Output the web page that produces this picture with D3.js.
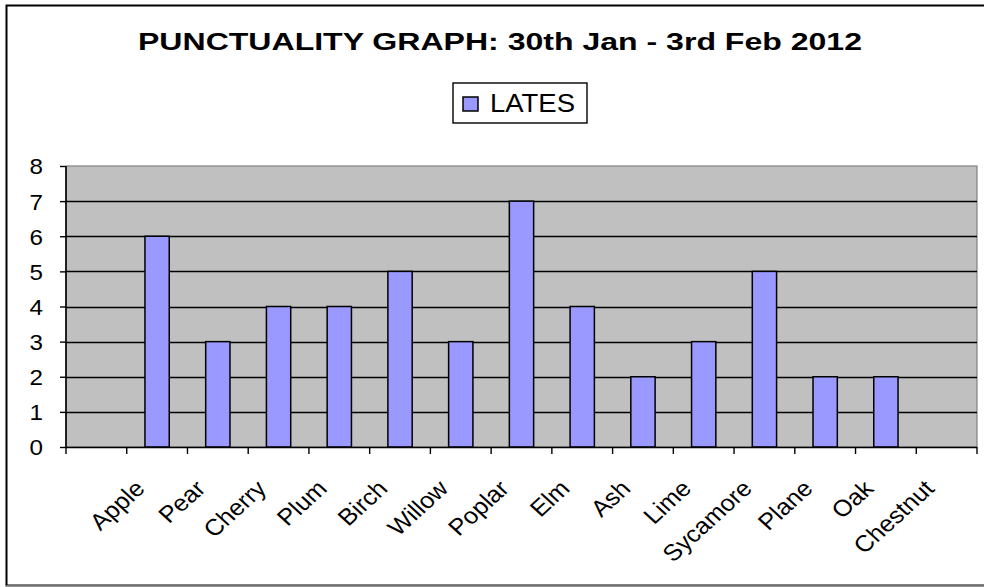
<!DOCTYPE html>
<html><head><meta charset="utf-8">
<script src="https://cdn.jsdelivr.net/npm/d3@7"></script>
<style>body{margin:0;background:#fff;}svg{display:block;font-family:"Liberation Sans",Arial,sans-serif;}</style>
</head><body>
<svg id="c" width="984" height="587"></svg>
<script>
const categories = ["", "Apple", "Pear", "Cherry", "Plum", "Birch", "Willow", "Poplar", "Elm", "Ash", "Lime", "Sycamore", "Plane", "Oak", "Chestnut"];
const lates = [null, 6, 3, 4, 4, 5, 3, 7, 4, 2, 3, 5, 2, 2, null];
const yTicks = [0, 1, 2, 3, 4, 5, 6, 7, 8];
const title = "PUNCTUALITY GRAPH: 30th Jan - 3rd Feb 2012";
const seriesName = "LATES";

const svg = d3.select("#c");
const L = 66, R = 977, T = 166, B = 447;

// outer frame
svg.append("rect").attr("x", 6.5).attr("y", 5.5).attr("width", 990).attr("height", 580)
  .attr("fill", "#fff").attr("stroke", "#000").attr("stroke-width", 2);
svg.append("line").attr("x1", 6).attr("x2", 984).attr("y1", 586).attr("y2", 586).attr("stroke", "#999").attr("stroke-width", 1.5);

const x = d3.scaleBand().domain(d3.range(categories.length)).range([L, R]).paddingInner(0).paddingOuter(0);
const y = d3.scaleLinear().domain([0, 8]).range([B, T]);

// plot background
svg.append("rect").attr("x", L).attr("y", T).attr("width", R - L).attr("height", B - T)
  .attr("fill", "#C0C0C0").attr("stroke", "#808080").attr("stroke-width", 1.2);

// gridlines
svg.append("g").selectAll("line").data(yTicks.filter(d => d > 0 && d < 8)).join("line")
  .attr("x1", L).attr("x2", R).attr("y1", d => Math.round(y(d)) + 0.5).attr("y2", d => Math.round(y(d)) + 0.5)
  .attr("stroke", "#000").attr("stroke-width", 1.3);

// bars
const bw = x.bandwidth() / 2.5;
svg.append("g").selectAll("rect").data(lates.map((v, i) => ({v, i})).filter(d => d.v)).join("rect")
  .attr("x", d => x(d.i) + (x.bandwidth() - bw) / 2)
  .attr("y", d => y(d.v))
  .attr("width", bw)
  .attr("height", d => y(0) - y(d.v))
  .attr("fill", "#9999FF").attr("stroke", "#000").attr("stroke-width", 1.5);

// y axis
const yAxis = svg.append("g").attr("transform", `translate(${L},0)`)
  .call(d3.axisLeft(y).tickValues(yTicks).tickSize(6).tickPadding(15).tickFormat(d3.format("d")));
yAxis.select(".domain").attr("stroke", "#000").attr("stroke-width", 1.6).attr("d", `M0,${T}V${B}`);
yAxis.selectAll(".tick line").attr("stroke", "#000").attr("stroke-width", 1.4);
yAxis.selectAll(".tick text").attr("font-size", 22).attr("fill", "#000")
  .attr("font-family", "Liberation Sans, Arial, sans-serif").attr("dy", "0.36em").attr("x", -21)
  .attr("transform", "scale(1.1,1)");

// x axis
const tickPos = d3.range(categories.length + 1).map(i => L + i * x.bandwidth());
const xAxisG = svg.append("g");
xAxisG.append("line").attr("x1", L).attr("x2", R).attr("y1", B + 0.5).attr("y2", B + 0.5).attr("stroke", "#000").attr("stroke-width", 1.6);
xAxisG.selectAll("line.t").data(tickPos).join("line").attr("class", "t")
  .attr("x1", d => d).attr("x2", d => d).attr("y1", B).attr("y2", B + 7).attr("stroke", "#000").attr("stroke-width", 1.4);
xAxisG.selectAll("text").data(categories.map((c, i) => ({c, i})).filter(d => d.c)).join("text")
  .attr("transform", d => `translate(${x(d.i) + x.bandwidth() / 2 - 11},${490}) scale(1.1,1) rotate(-45)`)
  .attr("text-anchor", "end").attr("font-size", 23).attr("fill", "#000")
  .text(d => d.c);

// title
const tt = svg.append("text").attr("x", 500).attr("y", 50).attr("text-anchor", "middle")
  .attr("font-weight", "bold").attr("font-size", 24).attr("fill", "#000").text(title);
tt.attr("textLength", 724).attr("lengthAdjust", "spacingAndGlyphs");

// legend
const lg = svg.append("g");
lg.append("rect").attr("x", 453).attr("y", 83).attr("width", 134).attr("height", 40)
  .attr("fill", "#fff").attr("stroke", "#000").attr("stroke-width", 1.4);
lg.append("rect").attr("x", 463).attr("y", 97).attr("width", 15).attr("height", 14)
  .attr("fill", "#9999FF").attr("stroke", "#000").attr("stroke-width", 1.5);
lg.append("text").attr("x", 490).attr("y", 112).attr("font-size", 25).attr("fill", "#000")
  .attr("textLength", 85).attr("lengthAdjust", "spacingAndGlyphs").text(seriesName);
</script>
</body></html>
